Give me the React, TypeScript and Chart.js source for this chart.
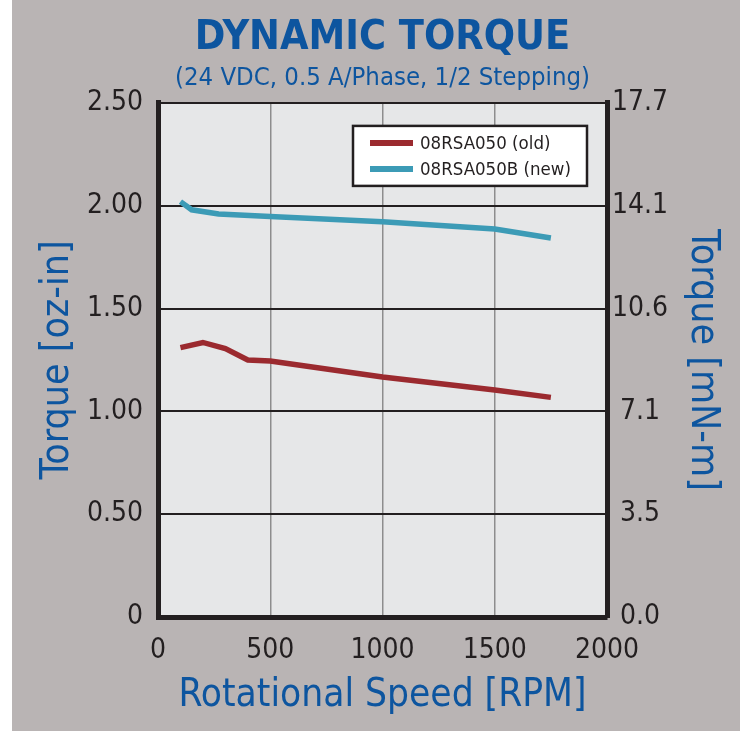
import { useEffect, useRef } from 'react';
import { Chart, registerables } from 'chart.js';

Chart.register(...registerables);

const titleText = 'DYNAMIC TORQUE';
const subtitleText = '(24 VDC, 0.5 A/Phase, 1/2 Stepping)';
const xTitle = 'Rotational Speed [RPM]';
const yTitle = 'Torque [oz-in]';
const y1Title = 'Torque [mN-m]';
const seriesNames = ['08RSA050 (old)', '08RSA050B (new)'];
const seriesColors = ['#9b2a2f', '#3c9bb6'];

const oldRpm = [100, 200, 300, 400, 500, 1000, 1500, 1750];
const oldTorque = [1.31, 1.335, 1.305, 1.25, 1.245, 1.167, 1.104, 1.068];
const newRpm = [100, 150, 270, 500, 1000, 1500, 1750];
const newTorque = [2.02, 1.98, 1.96, 1.947, 1.922, 1.887, 1.843];

const xTickLabels = ['0', '500', '1000', '1500', '2000'];
const leftTickLabels = ['0', '0.50', '1.00', '1.50', '2.00', '2.50'];
const rightTickLabels = ['0.0', '3.5', '7.1', '10.6', '14.1', '17.7'];

const FONT = "'Liberation Sans Narrow', 'Arial Narrow', 'DejaVu Sans Condensed', sans-serif";
const BLUE = '#0d559f';
const INK = '#231f20';
const BG = '#b9b4b4';
const PLOT_BG = '#e6e7e8';

const bgPlugin = {
  id: 'bgPlugin',
  beforeDraw(chart: any) {
    const { ctx, chartArea: a, width, height } = chart;
    ctx.save();
    ctx.fillStyle = BG;
    ctx.fillRect(0, 0, width, height);
    ctx.fillStyle = PLOT_BG;
    ctx.fillRect(a.left, a.top, a.right - a.left, a.bottom - a.top);
    ctx.restore();
  },
};

const legendPlugin = {
  id: 'boxLegend',
  afterDatasetsDraw(chart: any) {
    const { ctx, chartArea: a } = chart;
    const w = 234;
    const h = 60;
    const left = a.right - 20 - w;
    const top = a.top + 23;
    ctx.save();
    ctx.fillStyle = '#ffffff';
    ctx.fillRect(left, top, w, h);
    ctx.lineWidth = 2.5;
    ctx.strokeStyle = INK;
    ctx.strokeRect(left, top, w, h);
    chart.data.datasets.forEach((ds: any, i: number) => {
      const y = top + 17 + i * 26;
      ctx.strokeStyle = ds.borderColor;
      ctx.lineWidth = 6;
      ctx.beginPath();
      ctx.moveTo(left + 17, y);
      ctx.lineTo(left + 60, y);
      ctx.stroke();
      ctx.fillStyle = INK;
      ctx.font = `18.5px ${FONT}`;
      ctx.textBaseline = 'middle';
      ctx.textAlign = 'left';
      ctx.fillText(ds.label, left + 67, y + 1);
    });
    ctx.restore();
  },
};

export default function App() {
  const ref = useRef<HTMLCanvasElement | null>(null);

  useEffect(() => {
    if (!ref.current) return;
    const chart = new Chart(ref.current, {
      type: 'line',
      data: {
        datasets: [
          {
            label: seriesNames[0],
            data: oldRpm.map((x, i) => ({ x, y: oldTorque[i] })),
            borderColor: seriesColors[0],
            backgroundColor: seriesColors[0],
            borderWidth: 5.5,
            pointRadius: 0,
            tension: 0,
            yAxisID: 'y',
          },
          {
            label: seriesNames[1],
            data: newRpm.map((x, i) => ({ x, y: newTorque[i] })),
            borderColor: seriesColors[1],
            backgroundColor: seriesColors[1],
            borderWidth: 5.5,
            pointRadius: 0,
            tension: 0,
            yAxisID: 'y',
          },
        ],
      },
      options: {
        responsive: false,
        animation: false,
        events: [],
        layout: { padding: 0 },
        plugins: {
          legend: { display: false },
          tooltip: { enabled: false },
          title: {
            display: true,
            text: titleText,
            fullSize: false,
            color: BLUE,
            font: { family: FONT, size: 41, weight: 'bold', lineHeight: 1 },
            padding: { top: 17.5, bottom: 0 },
          },
          subtitle: {
            display: true,
            text: subtitleText,
            fullSize: false,
            color: BLUE,
            font: { family: FONT, size: 25.5, lineHeight: 1.2 },
            padding: { top: 4.4, bottom: 9.4 },
          },
        },
        scales: {
          x: {
            type: 'linear',
            min: 0,
            max: 2000,
            afterFit: (s: any) => { s.height = 114; },
            afterBuildTicks: (s: any) => { s.ticks = xTickLabels.map((_, i) => ({ value: i * 500 })); },
            ticks: {
              color: INK,
              font: { family: FONT, size: 28 },
              padding: 17,
              maxRotation: 0,
              callback: (v: any) => xTickLabels[Math.round(Number(v) / 500)],
            },
            grid: { color: '#8d8d8d', lineWidth: 1.5, drawTicks: false },
            border: { display: true, color: INK, width: 5 },
            title: {
              display: true,
              text: xTitle,
              color: BLUE,
              font: { family: FONT, size: 38.5, lineHeight: 1.2 },
              padding: { top: 0, bottom: 12 },
            },
          },
          y: {
            type: 'linear',
            position: 'left',
            min: 0,
            max: 2.5,
            afterFit: (s: any) => { s.width = 146; },
            afterBuildTicks: (s: any) => { s.ticks = leftTickLabels.map((_, i) => ({ value: i * 0.5 })); },
            ticks: {
              color: INK,
              font: { family: FONT, size: 28 },
              padding: 15,
              callback: (v: any) => leftTickLabels[Math.round(Number(v) / 0.5)],
            },
            grid: { color: INK, lineWidth: 2, drawTicks: false },
            border: { display: true, color: INK, width: 5 },
            title: {
              display: true,
              text: yTitle,
              color: BLUE,
              font: { family: FONT, size: 39, lineHeight: 1.2 },
              padding: { top: 22, bottom: 0 },
            },
          },
          y1: {
            type: 'linear',
            position: 'right',
            min: 0,
            max: 2.5,
            afterFit: (s: any) => { s.width = 133; },
            afterBuildTicks: (s: any) => { s.ticks = rightTickLabels.map((_, i) => ({ value: i * 0.5 })); },
            ticks: {
              color: INK,
              font: { family: FONT, size: 28 },
              padding: 5,
              crossAlign: 'center',
              callback: (v: any) => rightTickLabels[Math.round(Number(v) / 0.5)],
            },
            grid: { display: false, drawTicks: false },
            border: { display: true, color: INK, width: 5 },
            title: {
              display: true,
              text: y1Title,
              color: BLUE,
              font: { family: FONT, size: 39, lineHeight: 1.2 },
              padding: { top: 14, bottom: 0 },
            },
          },
        },
      },
      plugins: [bgPlugin, legendPlugin],
    } as any);
    return () => chart.destroy();
  }, []);

  return (
    <div style={{ position: 'absolute', left: 0, top: 0, width: 740, height: 731, background: '#ffffff', overflow: 'hidden' }}>
      <canvas ref={ref} width={728} height={731} style={{ position: 'absolute', left: 12, top: 0, display: 'block' }} />
    </div>
  );
}
